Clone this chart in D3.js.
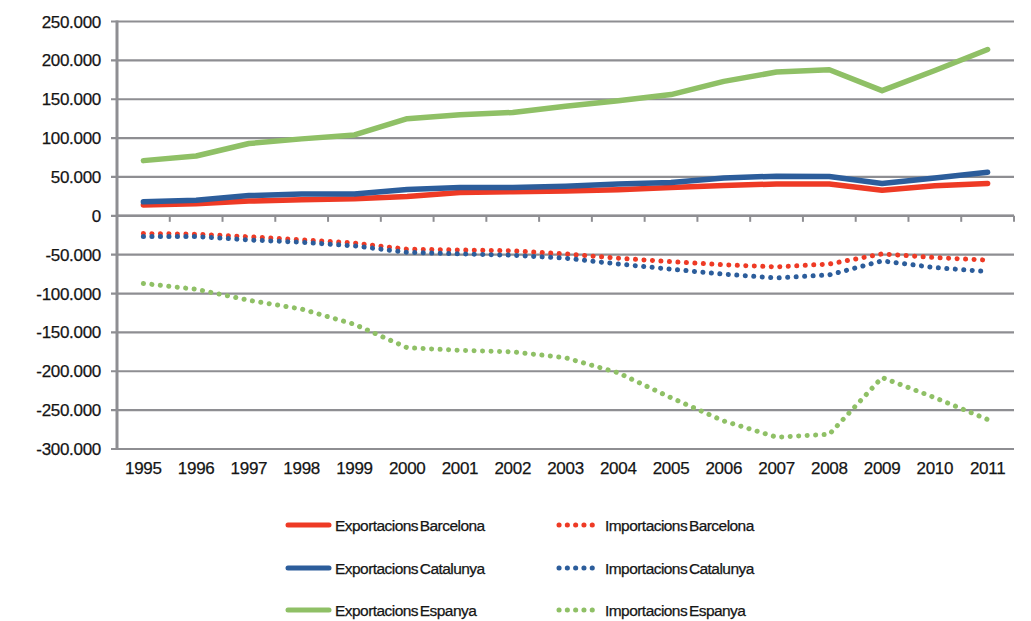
<!DOCTYPE html>
<html><head><meta charset="utf-8">
<script src="https://cdn.jsdelivr.net/npm/d3@7"></script>
<style>
html,body{margin:0;padding:0;background:#fff;}
text{font-family:"Liberation Sans",Arial,sans-serif;fill:#151515;stroke:#151515;stroke-width:0.25px;}
</style></head>
<body><svg id="c" width="1031" height="621"></svg>
<script>
const years = ["1995","1996","1997","1998","1999","2000","2001","2002","2003","2004","2005","2006","2007","2008","2009","2010","2011"];
const exportsBarcelona = [14000,15500,19000,20600,22000,25000,30000,31000,32000,33500,36500,39000,41000,41000,33000,38700,41700];
const importsBarcelona = [-22800,-23600,-27000,-31000,-35000,-43000,-44000,-45000,-49000,-54500,-59000,-63000,-65700,-62000,-49000,-53700,-57000];
const exportsCatalunya = [18000,20000,26000,28000,28000,34000,36500,36500,38000,41000,43000,48600,51000,50700,41700,48600,56000];
const importsCatalunya = [-26600,-26600,-31000,-34000,-38700,-47000,-49000,-50700,-54500,-62000,-68700,-75000,-80000,-76000,-58000,-66600,-71700];
const exportsEspanya = [71000,77000,93000,99000,104000,125000,130000,133000,141000,148000,156000,173000,185000,188000,161000,187000,214000];
const importsEspanya = [-87000,-94500,-108700,-120000,-139600,-169700,-173000,-175000,-182600,-202000,-234000,-264000,-284800,-281000,-208000,-234000,-262000];
const yTicks = [250000,200000,150000,100000,50000,0,-50000,-100000,-150000,-200000,-250000,-300000];
const seriesNames = ["Exportacions Barcelona","Importacions Barcelona","Exportacions Catalunya","Importacions Catalunya","Exportacions Espanya","Importacions Espanya"];

const colors = {Barcelona:"#ee3a25", Catalunya:"#2c5d9b", Espanya:"#8fc066"};
const series = [
  {name:seriesNames[0], values:exportsBarcelona, color:colors.Barcelona, dotted:false},
  {name:seriesNames[1], values:importsBarcelona, color:colors.Barcelona, dotted:true},
  {name:seriesNames[2], values:exportsCatalunya, color:colors.Catalunya, dotted:false},
  {name:seriesNames[3], values:importsCatalunya, color:colors.Catalunya, dotted:true},
  {name:seriesNames[4], values:exportsEspanya, color:colors.Espanya, dotted:false},
  {name:seriesNames[5], values:importsEspanya, color:colors.Espanya, dotted:true}
];

const svg = d3.select("#c");
const L = 117, R = 1014, T = 21.5, B = 449;
const x = d3.scaleBand().domain(years).range([L, R]);
const y = d3.scaleLinear().domain([-300000, 250000]).range([B, T]);
const fmt = v => (v < 0 ? "-" : "") + d3.format(",")(Math.abs(v)).replace(/,/g, ".");
const grid = "#8e8e92";

// gridlines
svg.append("g").selectAll("line").data(yTicks).join("line")
  .attr("x1", L - 6).attr("x2", R).attr("y1", d => y(d)).attr("y2", d => y(d))
  .attr("stroke", grid).attr("stroke-width", 2.2);

// y axis line
svg.append("line").attr("x1", L).attr("x2", L).attr("y1", T - 1).attr("y2", B + 1)
  .attr("stroke", grid).attr("stroke-width", 3);

// y labels
svg.append("g").selectAll("text").data(yTicks).join("text")
  .attr("x", 101).attr("y", d => y(d) + 6).attr("text-anchor", "end")
  .attr("font-size", 17).attr("letter-spacing", -0.3).text(d => fmt(d));

// x axis (category) at zero with ticks below
svg.append("line").attr("x1", L).attr("x2", R).attr("y1", y(0)).attr("y2", y(0))
  .attr("stroke", grid).attr("stroke-width", 2.5);
const bounds = years.map(d => x(d)).concat([R]);
svg.append("g").selectAll("line").data(bounds.slice(1)).join("line")
  .attr("x1", d => d).attr("x2", d => d).attr("y1", y(0)).attr("y2", y(0) + 6)
  .attr("stroke", grid).attr("stroke-width", 2);

// x labels
svg.append("g").selectAll("text").data(years).join("text")
  .attr("x", d => x(d) + x.bandwidth() / 2).attr("y", 474).attr("text-anchor", "middle")
  .attr("font-size", 17).attr("letter-spacing", -0.3).text(d => d);

// lines
const line = d3.line().x((d, i) => x(years[i]) + x.bandwidth() / 2).y(d => y(d));
const drawOrder = [1, 3, 5, 0, 2, 4];
drawOrder.forEach(i => {
  const s = series[i];
  const p = svg.append("path").attr("d", line(s.values)).attr("fill", "none")
    .attr("stroke", s.color).attr("stroke-width", s.dotted ? 5 : 5.5)
    .attr("stroke-linejoin", "round").attr("stroke-linecap", "round");
  if (s.dotted) p.attr("stroke-dasharray", "0.1 8.4");
});

// legend
const legRows = [525, 568, 610];
const legCols = [{lx:288, tx:335}, {lx:559, tx:605}];
series.forEach((s, i) => {
  const row = Math.floor(i / 2), col = i % 2;
  const cy = legRows[row];
  const c = legCols[col];
  const l = svg.append("line").attr("x1", c.lx).attr("x2", c.lx + 41).attr("y1", cy).attr("y2", cy)
    .attr("stroke", s.color).attr("stroke-width", 5).attr("stroke-linecap", "round");
  if (s.dotted) l.attr("stroke-dasharray", "0.1 8.2");
  svg.append("text").attr("x", c.tx).attr("y", cy + 6).attr("font-size", 15.5)
    .attr("letter-spacing", -0.55).attr("word-spacing", -2).text(s.name);
});
</script></body></html>
